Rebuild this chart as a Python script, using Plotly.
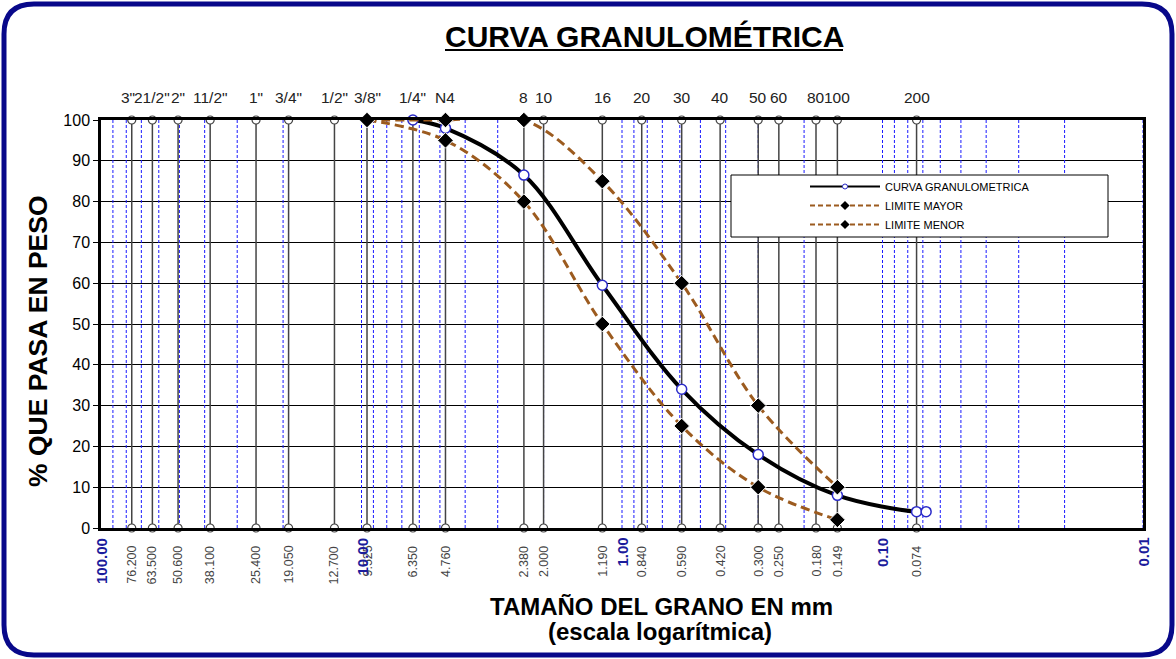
import numpy as np
import plotly.graph_objects as go

# tamices (abertura en mm) y su designacion
tamices = ['3"', '21/2"', '2"', '11/2"', '1"', '3/4"', '1/2"', '3/8"', '1/4"', 'N4',
           '8', '10', '16', '20', '30', '40', '50', '60', '80', '100', '200']
aberturas = [76.2, 63.5, 50.6, 38.1, 25.4, 19.05, 12.7, 9.525, 6.35, 4.76,
             2.38, 2.0, 1.19, 0.84, 0.59, 0.42, 0.30, 0.25, 0.18, 0.149, 0.074]

# curva granulometrica
curva_x = [6.35, 4.76, 2.38, 1.19, 0.59, 0.30, 0.149, 0.074, 0.068]
curva_y = [100, 98, 86.5, 59.5, 34, 18, 8, 4, 4]

# limites del huso
mayor_x = [9.525, 4.76, 2.38, 1.19, 0.59, 0.30, 0.149]
mayor_y = [100, 100, 100, 85, 60, 30, 10]
menor_x = [9.525, 4.76, 2.38, 1.19, 0.59, 0.30, 0.149]
menor_y = [100, 95, 80, 50, 25, 10, 2]

decadas = [100, 10, 1, 0.1, 0.01]
decadas_txt = ['100.00', '10.00', '1.00', '0.10', '0.01']

W, H = 1176, 659
L, R, T, B = 101, 1143, 120, 528
BROWN = '#9C5B1F'


def px2paper(px, py):
    return (px - L) / (R - L), (B - py) / (B - T)


fig = go.Figure()

# grilla logaritmica secundaria (azul discontinua)
gx, gy = [], []
for e in range(-2, 2):
    for m in range(1, 10):
        v = m * 10 ** e
        gx += [v, v, None]
        gy += [0, 100, None]
fig.add_trace(go.Scatter(x=gx, y=gy, mode='lines', showlegend=False, hoverinfo='skip',
                         line=dict(color='#1a1aff', width=1, dash='3px,2px')))

# lineas de tamices
sx, sy = [], []
for a in aberturas:
    sx += [a, a, None]
    sy += [0, 100, None]
fig.add_trace(go.Scatter(x=sx, y=sy, mode='lines', showlegend=False, hoverinfo='skip',
                         line=dict(color='#444444', width=1.5)))

# marcadores de tamices arriba y abajo
for yv in (100, 0):
    fig.add_trace(go.Scatter(x=aberturas, y=[yv] * len(aberturas), mode='markers',
                             showlegend=False, cliponaxis=False, hoverinfo='skip',
                             marker=dict(symbol='circle', size=8, color='white',
                                         line=dict(color='#444444', width=1.2))))

fig.add_trace(go.Scatter(x=curva_x, y=curva_y, mode='lines+markers', showlegend=False,
                         line=dict(color='black', width=4, shape='spline', smoothing=1),
                         cliponaxis=False,
                         marker=dict(symbol='circle', size=10, color='white',
                                     line=dict(color='#2a2ac8', width=1.5))))
for lx_, ly_ in ((mayor_x, mayor_y), (menor_x, menor_y)):
    fig.add_trace(go.Scatter(x=lx_, y=ly_, mode='lines+markers', showlegend=False,
                             line=dict(color=BROWN, width=3, dash='9px,5px', shape='spline', smoothing=1),
                             cliponaxis=False,
                             marker=dict(symbol='diamond', size=12, color='black',
                                         line=dict(color='white', width=1))))

# entradas de leyenda
fig.add_trace(go.Scatter(x=[None], y=[None], mode='lines+markers', name='CURVA GRANULOMETRICA',
                         line=dict(color='black', width=2),
                         marker=dict(symbol='circle', size=5, color='white',
                                     line=dict(color='#2a2ac8', width=1))))
for nm in ('LIMITE MAYOR', 'LIMITE MENOR'):
    fig.add_trace(go.Scatter(x=[None], y=[None], mode='lines+markers', name=nm,
                             line=dict(color=BROWN, width=2, dash='5px,3px'),
                             marker=dict(symbol='diamond', size=7, color='black')))

ann = []
# etiquetas superiores de tamices
for i, (t, a) in enumerate(zip(tamices, aberturas)):
    ann.append(dict(x=np.log10(a), y=100, xref='x', yref='y', text=t, showarrow=False,
                    xanchor='center', yanchor='bottom', yshift=12, xshift=-4 if i == 0 else 0,
                    font=dict(size=15.5, color='#222222')))
# aberturas abajo (rotadas)
for a in aberturas:
    ann.append(dict(x=np.log10(a), y=0, xref='x', yref='y', text=f'{a:.3f}', showarrow=False,
                    textangle=-90, xanchor='center', yanchor='top', yshift=-16,
                    font=dict(size=12.5, color='#444444')))
# decadas
for d, t in zip(decadas, decadas_txt):
    ann.append(dict(x=np.log10(d), y=0, xref='x', yref='y', text=f'<b>{t}</b>', showarrow=False,
                    textangle=-90, xanchor='center', yanchor='top', yshift=-8,
                    font=dict(size=15, color='#1c1c9c')))


def texto(px, py, txt, size, angle=0):
    x, y = px2paper(px, py)
    ann.append(dict(x=x, y=y, xref='paper', yref='paper', text=txt, showarrow=False,
                    xanchor='center', yanchor='middle', textangle=angle,
                    font=dict(size=size, color='black')))


texto(644, 36, '<b>CURVA GRANULOMÉTRICA</b>', 30)
texto(661, 606, '<b>TAMAÑO DEL GRANO EN mm</b>', 24)
texto(660, 631, '<b>(escala logarítmica)</b>', 24)
texto(38, 341, '<b>% QUE PASA EN PESO</b>', 26.5, -90)

shapes = []
# subrayado del titulo
u0 = px2paper(445, 50)
u1 = px2paper(843, 50)
shapes.append(dict(type='line', xref='paper', yref='paper', x0=u0[0], y0=u0[1], x1=u1[0], y1=u1[1],
                   line=dict(color='black', width=2)))
# caja de la leyenda
b0 = px2paper(731, 175)
b1 = px2paper(1108, 237)
shapes.append(dict(type='rect', xref='paper', yref='paper', x0=b0[0], y0=b0[1], x1=b1[0], y1=b1[1],
                   line=dict(color='black', width=1), fillcolor='white', layer='above'))

# marco redondeado exterior
x0, y0, x1, y1, r = 4, 4, 1172, 655, 30


def P(px, py):
    a, b = px2paper(px, py)
    return f'{a:.5f},{b:.5f}'


path = (f'M {P(x0 + r, y0)} L {P(x1 - r, y0)} Q {P(x1, y0)} {P(x1, y0 + r)} '
        f'L {P(x1, y1 - r)} Q {P(x1, y1)} {P(x1 - r, y1)} '
        f'L {P(x0 + r, y1)} Q {P(x0, y1)} {P(x0, y1 - r)} '
        f'L {P(x0, y0 + r)} Q {P(x0, y0)} {P(x0 + r, y0)} Z')
shapes.append(dict(type='path', xref='paper', yref='paper', path=path,
                   line=dict(color='#08088a', width=5)))

lx, ly = px2paper(805, 172)
fig.update_layout(
    width=W, height=H,
    margin=dict(l=L, r=W - R, t=T, b=H - B),
    paper_bgcolor='white', plot_bgcolor='white',
    font=dict(family='Liberation Sans, Arial, sans-serif', color='black'),
    xaxis=dict(type='log', range=[2, -2], showgrid=False, zeroline=False,
               showticklabels=False, ticks='', showline=True, linecolor='black',
               linewidth=2.5, mirror=True),
    yaxis=dict(range=[0, 100], dtick=10, showgrid=True, gridcolor='black', gridwidth=1,
               zeroline=False, showline=True, linecolor='black', linewidth=2.5, mirror=True,
               ticks='outside', ticklen=5, tickcolor='black', tickfont=dict(size=16)),
    legend=dict(x=lx, y=ly, xanchor='left', yanchor='top', bgcolor='rgba(0,0,0,0)',
                borderwidth=0, itemwidth=70, font=dict(size=11), tracegroupgap=0),
    annotations=ann,
    shapes=shapes,
)

fig.write_html("out.html", config={'displayModeBar': False},
               post_script="document.body.style.margin='0px';")
